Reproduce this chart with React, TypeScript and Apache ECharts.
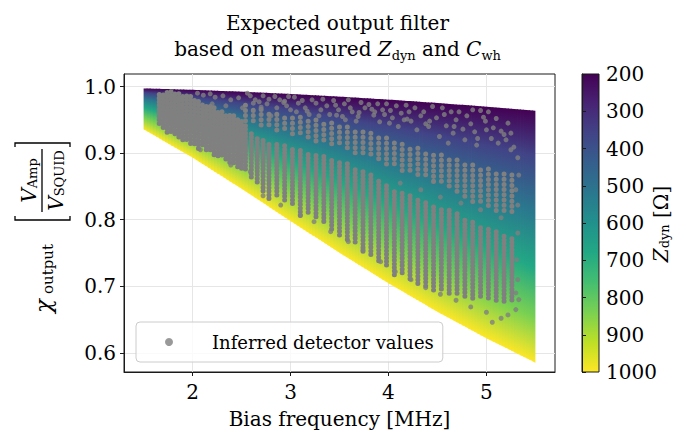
import React, { useEffect, useRef } from 'react';
import * as echarts from 'echarts';

const FONT = 'DejaVu Serif';

// ---- Model surface: chi_output at several Z_dyn levels, on a frequency grid (MHz)
const FREQ_GRID = [1.5, 2.0, 2.5, 3.0, 3.5, 4.0, 4.5, 5.0, 5.5];
const Z_LEVELS = [200, 360, 520, 680, 840, 1000];
const CHI_Z200 = [0.9972, 0.9950, 0.9922, 0.9888, 0.9848, 0.9803, 0.9752, 0.9697, 0.9637];
const CHI_Z360 = [0.9909, 0.9839, 0.9752, 0.9649, 0.9531, 0.9400, 0.9258, 0.9107, 0.8948];
const CHI_Z520 = [0.9812, 0.9674, 0.9503, 0.9307, 0.9090, 0.8858, 0.8615, 0.8365, 0.8113];
const CHI_Z680 = [0.9685, 0.9460, 0.9192, 0.8893, 0.8575, 0.8248, 0.7918, 0.7593, 0.7277];
const CHI_Z840 = [0.9531, 0.9209, 0.8838, 0.8442, 0.8035, 0.7631, 0.7240, 0.6867, 0.6515];
const CHI_Z1000 = [0.9354, 0.8930, 0.8461, 0.7977, 0.7500, 0.7043, 0.6614, 0.6217, 0.5851];

// ---- Axis ticks
const X_TICKS = [2, 3, 4, 5];
const Y_TICKS = [0.6, 0.7, 0.8, 0.9, 1.0];
const X_MIN = 1.3;
const X_MAX = 5.7;
const Y_MIN = 0.5713;
const Y_MAX = 1.0188;
const Z_MIN = 200;
const Z_MAX = 1000;
const Z_STEP = 100;

// ---- Inferred detector values: dense vertical streaks [f, chi top, chi bottom]
const DENSE_F = [1.66, 1.70, 1.74, 1.78, 1.82, 1.86, 1.90, 1.94, 1.98, 2.02, 2.06, 2.10, 2.14, 2.18, 2.22, 2.26, 2.30, 2.34, 2.38, 2.42, 2.46, 2.50,
  2.54, 2.60, 2.66, 2.72, 2.78, 2.86, 2.94, 3.02, 3.10, 3.18, 3.26, 3.34, 3.42, 3.50, 3.58, 3.66, 3.74, 3.82, 3.90, 3.98, 4.06, 4.14, 4.22, 4.30,
  4.38, 4.46, 4.54, 4.62, 4.70, 4.78, 4.86, 4.94, 5.02, 5.10, 5.18, 5.26];
const DENSE_HI = [0.988, 0.991, 0.992, 0.992, 0.991, 0.990, 0.989, 0.988, 0.986, 0.983, 0.980, 0.977, 0.974, 0.971, 0.968, 0.965, 0.963, 0.960, 0.959, 0.957, 0.954, 0.950,
  0.942, 0.933, 0.924, 0.919, 0.917, 0.914, 0.911, 0.908, 0.905, 0.902, 0.899, 0.896, 0.893, 0.888, 0.884, 0.879, 0.873, 0.867, 0.860, 0.852, 0.846, 0.842, 0.837, 0.833,
  0.828, 0.824, 0.819, 0.815, 0.809, 0.803, 0.797, 0.792, 0.788, 0.783, 0.779, 0.774];
const DENSE_LO = [0.940, 0.936, 0.931, 0.929, 0.925, 0.924, 0.919, 0.918, 0.913, 0.912, 0.904, 0.908, 0.902, 0.903, 0.897, 0.891, 0.893, 0.887, 0.882, 0.884, 0.878, 0.876,
  0.872, 0.864, 0.852, 0.843, 0.830, 0.833, 0.825, 0.821, 0.806, 0.807, 0.800, 0.794, 0.782, 0.776, 0.770, 0.762, 0.750, 0.746, 0.737, 0.727, 0.716, 0.715, 0.709, 0.703,
  0.699, 0.694, 0.692, 0.689, 0.686, 0.684, 0.681, 0.680, 0.678, 0.677, 0.675, 0.675];

// ---- Inferred detector values: ribbon around Z_dyn ~ 400-500 [f, chi top, chi bottom]
const RIBBON_F = [2.54, 2.62, 2.70, 2.78, 2.86, 2.94, 3.02, 3.10, 3.18, 3.26, 3.34, 3.42, 3.50, 3.58, 3.66, 3.74, 3.82, 3.90, 3.98, 4.06, 4.14, 4.22, 4.30,
  4.38, 4.46, 4.54, 4.62, 4.70, 4.78, 4.86, 4.94, 5.02, 5.10, 5.18, 5.26];
const RIBBON_HI = [0.972, 0.969, 0.966, 0.963, 0.960, 0.959, 0.956, 0.954, 0.951, 0.950, 0.948, 0.947, 0.944, 0.941, 0.938, 0.935, 0.930, 0.926, 0.923, 0.920, 0.915, 0.912, 0.909,
  0.905, 0.900, 0.897, 0.893, 0.890, 0.887, 0.884, 0.881, 0.878, 0.875, 0.872, 0.867];
const RIBBON_LO = [0.947, 0.942, 0.939, 0.936, 0.933, 0.930, 0.927, 0.924, 0.921, 0.918, 0.915, 0.912, 0.909, 0.905, 0.900, 0.896, 0.891, 0.887, 0.882, 0.878, 0.873, 0.869, 0.864,
  0.860, 0.855, 0.851, 0.845, 0.839, 0.833, 0.827, 0.821, 0.816, 0.812, 0.809, 0.806];

// ---- Inferred detector values: isolated points [f, chi]
const SPARSE_F = [2.05, 2.11, 2.18, 2.23, 2.31, 2.39, 2.47, 2.56, 2.59, 2.20, 2.34, 2.51, 2.64, 2.72, 2.76, 2.84, 2.89, 2.96, 3.04, 3.08,
  3.15, 3.22, 3.33, 3.37, 3.44, 3.49, 3.55, 3.59, 3.63, 3.72, 3.76, 3.80, 3.85, 3.89, 3.94, 3.98, 4.04, 4.08, 4.13, 4.18,
  4.23, 4.27, 4.33, 4.38, 4.45, 4.49, 4.55, 4.59, 4.64, 4.69, 4.76, 4.80, 4.86, 4.88, 4.94, 4.97, 5.00, 5.02, 5.07, 5.15,
  5.20, 5.25, 5.28, 5.32, 5.33, 5.30, 5.32, 5.25, 2.80, 3.00, 3.29, 3.56,
  4.12, 4.33, 4.53, 4.74, 4.94, 5.15, 5.32, 5.31, 5.32, 5.30, 5.33,
  2.08, 2.39, 2.59, 2.72, 2.90, 3.10, 3.24, 3.41, 3.59, 3.74, 3.92, 4.07, 4.23, 4.38, 4.53, 4.69, 4.84, 5.00, 5.15, 5.06, 5.22, 5.30,
  2.68, 2.93, 3.17, 3.47, 3.69, 3.86, 4.01, 4.19, 4.41, 4.66, 4.91, 5.12,
  2.62, 2.70, 2.78, 2.86, 2.94, 2.98, 3.06, 3.12, 3.19, 3.26, 3.31, 3.40, 3.46, 3.53, 3.61, 3.67, 3.70, 3.83, 3.91, 3.96,
  4.02, 4.10, 4.16, 4.21, 4.29, 4.36, 4.42, 4.52, 4.57, 4.61, 4.67, 4.72, 4.78, 4.84, 4.90, 4.99, 5.05, 5.10, 5.18, 5.22];
const SPARSE_CHI = [0.990, 0.987, 0.989, 0.984, 0.986, 0.980, 0.983, 0.990, 0.986, 0.974, 0.971, 0.968, 0.980, 0.986, 0.974, 0.985, 0.980, 0.971, 0.984, 0.975,
  0.968, 0.980, 0.981, 0.971, 0.979, 0.965, 0.974, 0.980, 0.962, 0.976, 0.968, 0.973, 0.957, 0.974, 0.965, 0.974, 0.953, 0.971, 0.960, 0.972,
  0.948, 0.968, 0.956, 0.944, 0.970, 0.953, 0.968, 0.941, 0.962, 0.950, 0.936, 0.956, 0.965, 0.932, 0.964, 0.954, 0.935, 0.962, 0.938, 0.933,
  0.920, 0.930, 0.909, 0.893, 0.867, 0.845, 0.822, 0.905, 0.956, 0.965, 0.956, 0.950,
  0.855, 0.845, 0.834, 0.825, 0.815, 0.803, 0.780, 0.740, 0.710, 0.690, 0.680,
  0.905, 0.882, 0.872, 0.836, 0.822, 0.807, 0.797, 0.782, 0.767, 0.755, 0.737, 0.722, 0.710, 0.698, 0.688, 0.679, 0.669, 0.661, 0.652, 0.646, 0.657, 0.665,
  0.977, 0.976, 0.963, 0.957, 0.955, 0.962, 0.945, 0.951, 0.940, 0.930, 0.922, 0.915,
  0.975, 0.969, 0.981, 0.968, 0.978, 0.985, 0.962, 0.979, 0.958, 0.975, 0.965, 0.958, 0.972, 0.955, 0.968, 0.948, 0.961, 0.966, 0.947, 0.958,
  0.964, 0.940, 0.950, 0.962, 0.935, 0.962, 0.948, 0.925, 0.958, 0.915, 0.940, 0.962, 0.920, 0.944, 0.912, 0.948, 0.922, 0.952, 0.928, 0.945];

// ---- Colours
const VIRIDIS = ['#440154', '#482475', '#414487', '#355f8d', '#2a788e', '#21918c', '#22a884', '#44bf70', '#7ad151', '#bddf26', '#fde725'];
const Z_COLORS = ['#440154', '#414487', '#2a788e', '#22a884', '#7ad151', '#fde725'];
const POINT_GRAY = '#808080';
const INK = '#1a1a1a';

const CHI_TABLE = [CHI_Z200, CHI_Z360, CHI_Z520, CHI_Z680, CHI_Z840, CHI_Z1000];

function renderFill(params: any, api: any) {
  const i = params.dataIndex;
  const f0 = FREQ_GRID[i];
  const f1 = FREQ_GRID[i + 1];
  const N = 16;
  const last = i === FREQ_GRID.length - 2;
  const lerp = (k: number, t: number) => CHI_TABLE[k][i] + (CHI_TABLE[k][i + 1] - CHI_TABLE[k][i]) * t;
  const children: any[] = [];
  for (let s = 0; s < N; s++) {
    const t0 = s / N;
    const t1 = (s + 1) / N;
    const tm = (t0 + t1) / 2;
    const fA = f0 + (f1 - f0) * t0;
    const fB = f0 + (f1 - f0) * t1;
    const fM = f0 + (f1 - f0) * tm;
    const kb = CHI_TABLE.length - 1;
    const pTA = api.coord([fA, lerp(0, t0)]);
    const pTB = api.coord([fB, lerp(0, t1)]);
    const pBB = api.coord([fB, lerp(kb, t1)]);
    const pBA = api.coord([fA, lerp(kb, t0)]);
    const ext = last && s === N - 1 ? 0 : 0.8;
    const ys = CHI_TABLE.map((_, k) => api.coord([fM, lerp(k, tm)])[1]);
    const yTop = ys[0];
    const yBot = ys[kb];
    const stops = ys.map((y, k) => ({ offset: Math.min(1, Math.max(0, (y - yTop) / (yBot - yTop))), color: Z_COLORS[k] }));
    children.push({
      type: 'polygon',
      shape: { points: [[pTA[0], pTA[1]], [pTB[0] + ext, pTB[1]], [pBB[0] + ext, pBB[1]], [pBA[0], pBA[1]]] },
      style: { fill: { type: 'linear', x: 0, y: yTop, x2: 0, y2: yBot, global: true, colorStops: stops } },
    });
  }
  return { type: 'group', children };
}

function streakRenderer(gap: number, shift: number) {
  return (params: any, api: any) => {
    const f = api.value(0);
    const hi = api.value(1);
    const lo = api.value(2);
    const a = api.coord([f, hi]);
    const b = api.coord([f, lo]);
    return {
      type: 'line',
      shape: { x1: a[0], y1: a[1], x2: b[0], y2: b[1] },
      style: {
        stroke: POINT_GRAY, lineWidth: 5, lineCap: 'round', lineDash: [0.01, gap],
        lineDashOffset: (params.dataIndex * shift) % gap, fill: null,
      },
    };
  };
}

const subRich = {
  a: { fontFamily: FONT, fontSize: 20, lineHeight: 26, color: '#000', verticalAlign: 'middle' },
  i: { fontFamily: FONT, fontSize: 20, fontStyle: 'italic', lineHeight: 26, color: '#000', verticalAlign: 'middle' },
  s: { fontFamily: FONT, fontSize: 13, lineHeight: 14, color: '#000', verticalAlign: 'bottom' },
};

const labelRich = {
  a: { fontFamily: FONT, fontSize: 20, lineHeight: 20, color: '#000', verticalAlign: 'middle' },
  i: { fontFamily: FONT, fontSize: 20, fontStyle: 'italic', lineHeight: 20, color: '#000', verticalAlign: 'middle' },
  s: { fontFamily: FONT, fontSize: 13, lineHeight: 8, color: '#000', verticalAlign: 'bottom' },
};

export default function App() {
  const ref = useRef<HTMLDivElement>(null);
  useEffect(() => {
    if (!ref.current) return;
    const chart = echarts.init(ref.current, null, { renderer: 'svg' });
    const option: any = {
      animation: false,
      backgroundColor: '#ffffff',
      textStyle: { fontFamily: FONT },
      title: {
        text: '{a|Expected output filter}\n{a|based on measured }{i|Z}{s|dyn}{a| and }{i|C}{s|wh}',
        left: 'center',
        top: 5,
        textStyle: { rich: subRich, fontFamily: FONT, fontSize: 20, fontWeight: 'normal' },
      },
      legend: {
        data: [{ name: 'Inferred detector values', icon: 'circle' }],
        left: 136,
        top: 322,
        itemWidth: 8,
        itemHeight: 8,
        padding: [11, 9, 11, 29],
        backgroundColor: 'rgba(255,255,255,0.8)',
        borderColor: '#cccccc',
        borderWidth: 1,
        borderRadius: 4,
        selectedMode: false,
        textStyle: { fontFamily: FONT, fontSize: 18, color: '#000', padding: [0, 0, 0, 34] },
      },
      grid: [
        { left: 124, top: 74, width: 431, height: 298, show: true, borderColor: INK, borderWidth: 1, backgroundColor: 'transparent', outerBoundsMode: 'none', containLabel: false },
        {
          left: 582, top: 74, width: 17, height: 298, show: true, borderColor: INK, borderWidth: 1, outerBoundsMode: 'none', containLabel: false,
          backgroundColor: { type: 'linear', x: 0, y: 0, x2: 0, y2: 1, colorStops: VIRIDIS.map((c, k) => ({ offset: k / (VIRIDIS.length - 1), color: c })) },
        },
      ],
      xAxis: [
        {
          gridIndex: 0, type: 'value', min: X_MIN, max: X_MAX,
          axisLine: { show: true, onZero: false, lineStyle: { color: INK, width: 1 } },
          axisTick: { show: true, length: 4, customValues: X_TICKS, lineStyle: { color: INK, width: 1 } },
          axisLabel: { customValues: X_TICKS, fontSize: 20, color: '#000', margin: 10, fontFamily: FONT },
          splitLine: { show: true, lineStyle: { color: '#e6e6e6', width: 1 } },
          name: 'Bias frequency [MHz]', nameLocation: 'middle', nameGap: 37,
          nameTextStyle: { fontSize: 20, color: '#000', fontFamily: FONT },
        },
        { gridIndex: 1, type: 'value', min: 0, max: 1, show: false },
      ],
      yAxis: [
        {
          gridIndex: 0, type: 'value', min: Y_MIN, max: Y_MAX,
          axisLine: { show: true, onZero: false, lineStyle: { color: INK, width: 1 } },
          axisTick: { show: true, length: 4, customValues: Y_TICKS, lineStyle: { color: INK, width: 1 } },
          axisLabel: { customValues: Y_TICKS, fontSize: 20, color: '#000', margin: 8, fontFamily: FONT, formatter: (v: number) => v.toFixed(1) },
          splitLine: { show: true, lineStyle: { color: '#e6e6e6', width: 1 } },
        },
        {
          gridIndex: 1, type: 'value', position: 'right', inverse: true, min: Z_MIN, max: Z_MAX, interval: Z_STEP,
          axisLine: { show: true, lineStyle: { color: INK, width: 1 } },
          axisTick: { show: true, length: 4, lineStyle: { color: INK, width: 1 } },
          axisLabel: { fontSize: 20, color: '#000', margin: 7, fontFamily: FONT, formatter: (v: number) => String(v) },
          splitLine: { show: false },
        },
      ],
      series: [
        {
          name: 'filter', type: 'custom', coordinateSystem: 'cartesian2d', xAxisIndex: 0, yAxisIndex: 0,
          silent: true, z: 1,
          data: FREQ_GRID.slice(0, -1).map((f, k) => [f, CHI_Z200[k]]),
          renderItem: renderFill,
        },
        {
          name: 'dense', type: 'custom', coordinateSystem: 'cartesian2d', xAxisIndex: 0, yAxisIndex: 0,
          silent: true, z: 2,
          encode: { x: 0, y: [1, 2] },
          data: DENSE_F.map((f, k) => [f, DENSE_HI[k], DENSE_LO[k]]),
          renderItem: streakRenderer(3.6, 1.3),
        },
        {
          name: 'ribbon', type: 'custom', coordinateSystem: 'cartesian2d', xAxisIndex: 0, yAxisIndex: 0,
          silent: true, z: 2,
          encode: { x: 0, y: [1, 2] },
          data: RIBBON_F.map((f, k) => [f, RIBBON_HI[k], RIBBON_LO[k]]),
          renderItem: streakRenderer(5.2, 2.3),
        },
        {
          name: 'Inferred detector values', type: 'scatter', xAxisIndex: 0, yAxisIndex: 0,
          symbol: 'circle', symbolSize: 5, z: 3, silent: true,
          itemStyle: { color: POINT_GRAY },
          data: SPARSE_F.map((f, k) => [f, SPARSE_CHI[k]]),
        },
      ],
      graphic: [
        {
          type: 'group', x: 42, y: 226, rotation: Math.PI / 2, silent: true,
          children: [
            { type: 'text', x: -87, y: 1, style: { text: 'χ', fontFamily: FONT, fontStyle: 'italic', fontSize: 23, fill: '#000', align: 'left', verticalAlign: 'middle' } },
            { type: 'text', x: -68, y: 6, style: { text: 'output', fontFamily: FONT, fontSize: 15, fill: '#000', align: 'left', verticalAlign: 'middle' } },
            { type: 'polyline', shape: { points: [[10, -27], [6, -27], [6, 28], [10, 28]] }, style: { stroke: '#000', lineWidth: 1.3, fill: null } },
            { type: 'polyline', shape: { points: [[79, -27], [83, -27], [83, 28], [79, 28]] }, style: { stroke: '#000', lineWidth: 1.3, fill: null } },
            { type: 'line', shape: { x1: 14, y1: 0, x2: 77, y2: 0 }, style: { stroke: '#000', lineWidth: 1.3 } },
            { type: 'text', x: 45.5, y: -13, style: { text: '{i|V}{s|Amp}', rich: labelRich, align: 'center', verticalAlign: 'middle' } },
            { type: 'text', x: 45.5, y: 14, style: { text: '{i|V}{s|SQUID}', rich: labelRich, align: 'center', verticalAlign: 'middle' } },
          ],
        },
        {
          type: 'text', x: 661, y: 224, rotation: Math.PI / 2, silent: true,
          style: { text: '{i|Z}{s|dyn}{a| [Ω]}', rich: labelRich, align: 'center', verticalAlign: 'middle' },
        },
      ],
    };
    chart.setOption(option);
    return () => chart.dispose();
  }, []);
  return <div ref={ref} style={{ position: 'fixed', left: 0, top: 0, width: 675, height: 439 }} />;
}
